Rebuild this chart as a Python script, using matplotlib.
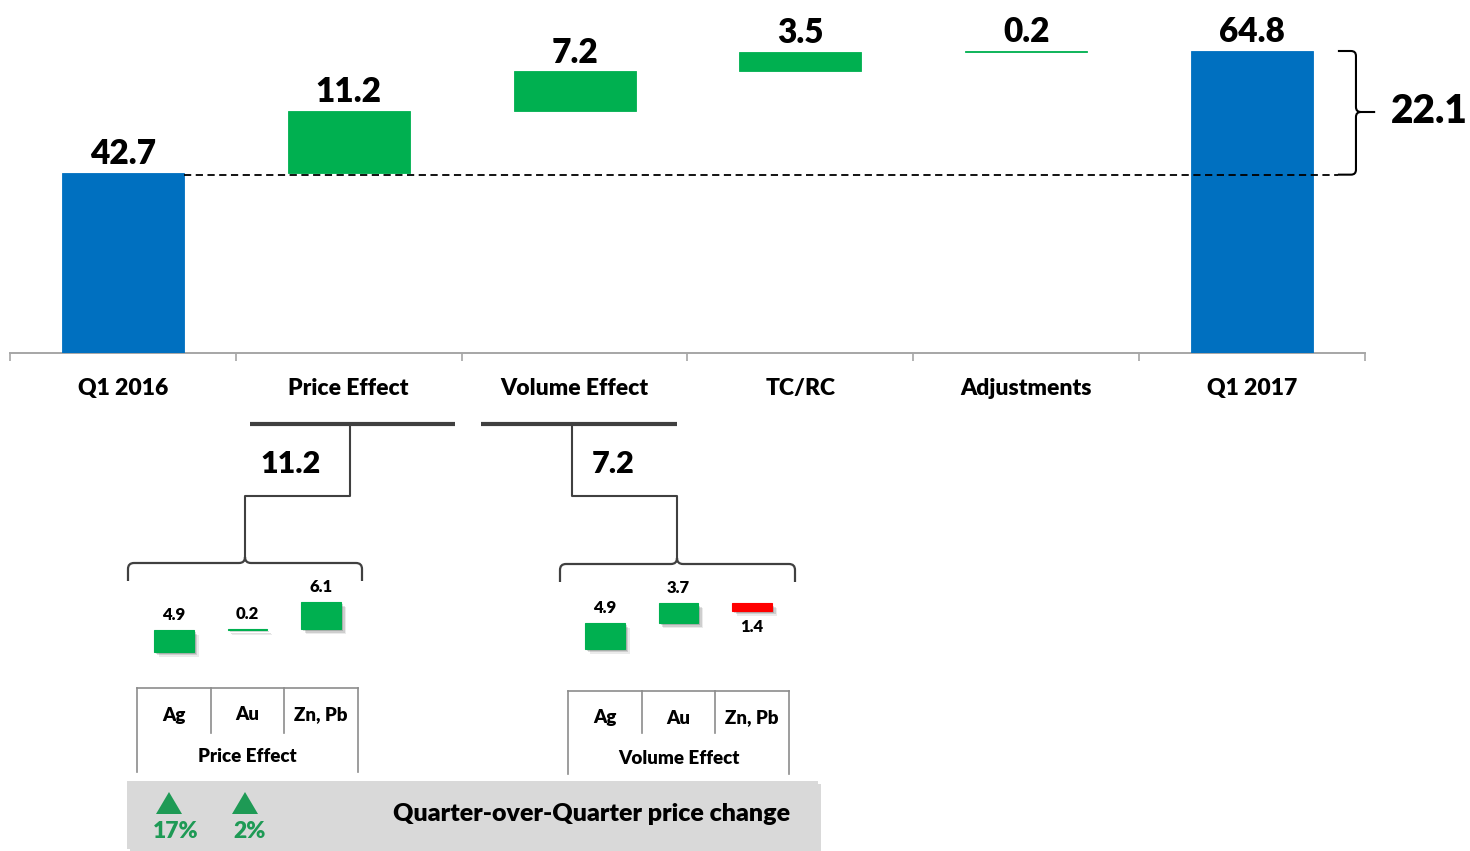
import matplotlib
matplotlib.use('Agg')
import matplotlib.pyplot as plt
from matplotlib.path import Path
from matplotlib.patches import PathPatch, Rectangle, Polygon
import matplotlib.patheffects as pe
import numpy as np

plt.rcParams['font.family'] = ['Lato', 'DejaVu Sans']
FW = 'heavy'

# ---------------- data ----------------
categories = ['Q1 2016', 'Price Effect', 'Volume Effect', 'TC/RC', 'Adjustments', 'Q1 2017']
values = [42.7, 11.2, 7.2, 3.5, 0.2, 64.8]
is_total = [True, False, False, False, False, True]

sub_labels = ['Ag', 'Au', 'Zn, Pb']
price_values = [4.9, 0.2, 6.1]
volume_values = [4.9, 3.7, -1.4]
price_group_label = 'Price Effect'
volume_group_label = 'Volume Effect'

qoq_changes = ['17%', '2%']
qoq_title = 'Quarter-over-Quarter price change'

# ---------------- style ----------------
BLUE = '#0070C0'
GREEN = '#00B050'
RED = '#FF0000'
DARK = '#404040'
GRID = '#A6A6A6'
TEXTGREEN = '#1E9A55'

W, H = 1470, 851
fig = plt.figure(figsize=(W / 100, H / 100), dpi=100)


def px_axes(x0, y0, x1, y1):
    return fig.add_axes([x0 / W, 1 - y1 / H, (x1 - x0) / W, (y1 - y0) / H])


def waterfall(vals, totals):
    bottoms, heights, cols = [], [], []
    run = 0.0
    for v, t in zip(vals, totals):
        if t:
            bottoms.append(0.0); heights.append(v); cols.append(BLUE); run = v
        else:
            bottoms.append(run if v >= 0 else run + v)
            heights.append(abs(v))
            cols.append(GREEN if v >= 0 else RED)
            run += v
    return bottoms, heights, cols


# ---------------- main waterfall ----------------
ax = px_axes(10, 0, 1365, 353)
ax.set_xlim(-0.5, 5.5)
ax.set_ylim(10.09, 74.04)
ax.patch.set_visible(False)

b, h, c = waterfall(values, is_total)
x = np.arange(len(categories))
ax.bar(x, h, bottom=b, width=0.54, color=c, edgecolor=c, linewidth=0.6, zorder=3)
for xi, (bb, hh, v) in enumerate(zip(b, h, values)):
    ax.annotate(f'{abs(v):.1f}', (xi, bb + hh), xytext=(0, 2), textcoords='offset points',
                ha='center', va='bottom', fontsize=24, fontweight=FW, color='black')

for s in ['top', 'left', 'right']:
    ax.spines[s].set_visible(False)
ax.spines['bottom'].set_color(GRID)
ax.spines['bottom'].set_linewidth(1.4)
ax.set_yticks([])
ax.set_xticks(x, categories)
ax.set_xticks(np.arange(-0.5, 6.0, 1.0), minor=True)
ax.tick_params(axis='x', which='major', length=0, pad=18, labelsize=16.5)
ax.tick_params(axis='x', which='minor', length=6, width=1.2, color=GRID, direction='out')
for lbl in ax.get_xticklabels():
    lbl.set_fontweight(FW)

# dashed reference line
start = values[0]
end = values[-1]
ax.plot([0.27, 5.38], [start - 0.3, start - 0.3], color='black', lw=1.3, ls=(0, (4, 2.5)), zorder=4)

# right brace for the total change
x0, xv, xt, rx, ry = 5.38, 5.46, 5.545, 0.022, 0.9
ym = (start + end) / 2
lo = start - 0.3
verts = [(x0, end), (xv - rx, end), (xv, end), (xv, end - ry), (xv, ym + ry), (xv, ym), (xv + rx, ym),
         (xt, ym),
         (xv + rx, ym), (xv, ym), (xv, ym - ry), (xv, lo + ry), (xv, lo), (xv - rx, lo), (x0, lo)]
codes = [Path.MOVETO, Path.LINETO, Path.CURVE3, Path.CURVE3, Path.LINETO, Path.CURVE3, Path.CURVE3,
         Path.LINETO,
         Path.MOVETO, Path.CURVE3, Path.CURVE3, Path.LINETO, Path.CURVE3, Path.CURVE3, Path.LINETO]
ax.add_patch(PathPatch(Path(verts, codes), fill=False, lw=1.5, edgecolor='black', clip_on=False, zorder=4))
ax.text(5.783, ym, f'{end - start:.1f}', ha='center', va='center', fontsize=28, fontweight=FW,
        clip_on=False)


# ---------------- sub waterfalls ----------------
def sub_chart(box, base_px, scale, vals):
    x0p, y0p, x1p, y1p = box
    sa = px_axes(x0p, y0p, x1p, y1p)
    sa.set_xlim(-0.5, 2.5)
    sa.set_ylim(-(y1p - base_px) / scale, (base_px - y0p) / scale)
    sa.axis('off')
    bb, hh, cc = waterfall(vals, [False] * len(vals))
    shadow = [pe.SimplePatchShadow(offset=(3.5, -3.5), shadow_rgbFace='black', alpha=0.08),
              pe.SimplePatchShadow(offset=(2.5, -2.5), shadow_rgbFace='black', alpha=0.12),
              pe.SimplePatchShadow(offset=(1.5, -1.5), shadow_rgbFace='black', alpha=0.15),
              pe.Normal()]
    bars = sa.bar(np.arange(len(vals)), hh, bottom=bb, width=0.54, color=cc, edgecolor=cc,
                  linewidth=0.8, zorder=3)
    for p in bars:
        p.set_path_effects(shadow)
    for i, (b_, h_, v) in enumerate(zip(bb, hh, vals)):
        if v >= 0:
            sa.annotate(f'{abs(v):.1f}', (i, b_ + h_), xytext=(0, 5), textcoords='offset points',
                        ha='center', va='bottom', fontsize=12, fontweight=FW)
        else:
            sa.annotate(f'{abs(v):.1f}', (i, b_), xytext=(0, -6), textcoords='offset points',
                        ha='center', va='top', fontsize=12, fontweight=FW)
    return sa


sub_chart((137, 540, 358, 690), 652, 4.45, price_values)
sub_chart((568, 540, 789, 690), 649, 5.3, volume_values)

# ---------------- overlay (connectors, tables, banner) ----------------
ov = px_axes(0, 0, W, H)
ov.set_xlim(0, W)
ov.set_ylim(H, 0)
ov.axis('off')
ov.patch.set_visible(False)

# connectors
ov.plot([250, 455], [424, 424], color=DARK, lw=3, solid_capstyle='butt')
ov.plot([350, 350, 245, 245], [424, 496, 496, 557], color=DARK, lw=1.5)
ov.plot([481, 677], [424, 424], color=DARK, lw=3, solid_capstyle='butt')
ov.plot([572, 572, 677, 677], [424, 496, 496, 558], color=DARK, lw=1.5)
ov.text(291, 464, f'{values[1]:.1f}', ha='center', va='center', fontsize=22, fontweight=FW)
ov.text(613, 464, f'{values[2]:.1f}', ha='center', va='center', fontsize=22, fontweight=FW)


def hbrace(x0, x1, xm, yt, yb, r=6, tip=6):
    verts = [(x0, yb), (x0, yt + r), (x0, yt), (x0 + r, yt), (xm - r, yt), (xm, yt), (xm, yt - tip),
             (xm, yt), (xm + r, yt), (x1 - r, yt), (x1, yt), (x1, yt + r), (x1, yb)]
    codes = [Path.MOVETO, Path.LINETO, Path.CURVE3, Path.CURVE3, Path.LINETO, Path.CURVE3, Path.CURVE3,
             Path.CURVE3, Path.CURVE3, Path.LINETO, Path.CURVE3, Path.CURVE3, Path.LINETO]
    ov.add_patch(PathPatch(Path(verts, codes), fill=False, lw=1.6, edgecolor=DARK))


hbrace(128, 362, 245, 563, 581)
hbrace(560, 795, 677, 564, 582)


def table(xl, xr, ytop, ybot, ymid, ylab, ygrp, group):
    xs = np.linspace(xl, xr, 4)
    col = '#8C8C8C'
    ov.plot([xl, xr], [ytop, ytop], color=col, lw=1.2)
    ov.plot([xl, xl], [ytop, ybot], color=col, lw=1.2)
    ov.plot([xr, xr], [ytop, ybot], color=col, lw=1.2)
    for xi in xs[1:3]:
        ov.plot([xi, xi], [ytop, ymid], color=col, lw=1.2)
    for i, lab in enumerate(sub_labels):
        ov.text((xs[i] + xs[i + 1]) / 2, ylab, lab, ha='center', va='center', fontsize=13.5,
                fontweight=FW)
    ov.text((xl + xr) / 2, ygrp, group, ha='center', va='center', fontsize=13.5, fontweight=FW)


table(137, 358, 688, 772, 733, 715, 757, price_group_label)
table(568, 789, 691, 774, 733, 718, 759, volume_group_label)

# banner
banner = Rectangle((127, 781), 691, 68, facecolor='#D9D9D9', edgecolor='none')
banner.set_path_effects([pe.SimplePatchShadow(offset=(2, -2), shadow_rgbFace='black', alpha=0.15),
                         pe.Normal()])
ov.add_patch(banner)
for cx, lab in zip([169, 245], qoq_changes):
    ov.add_patch(Polygon([(cx - 13, 814), (cx + 13, 814), (cx, 792)], closed=True,
                         facecolor=TEXTGREEN, edgecolor='none'))
    ov.text(cx + (7 if len(lab) > 2 else 5), 832, lab, ha='center', va='center', fontsize=16.5,
            fontweight=FW, color=TEXTGREEN)
ov.text(592, 814, qoq_title, ha='center', va='center', fontsize=18, fontweight=FW)

fig.savefig('out.png', dpi=100)
